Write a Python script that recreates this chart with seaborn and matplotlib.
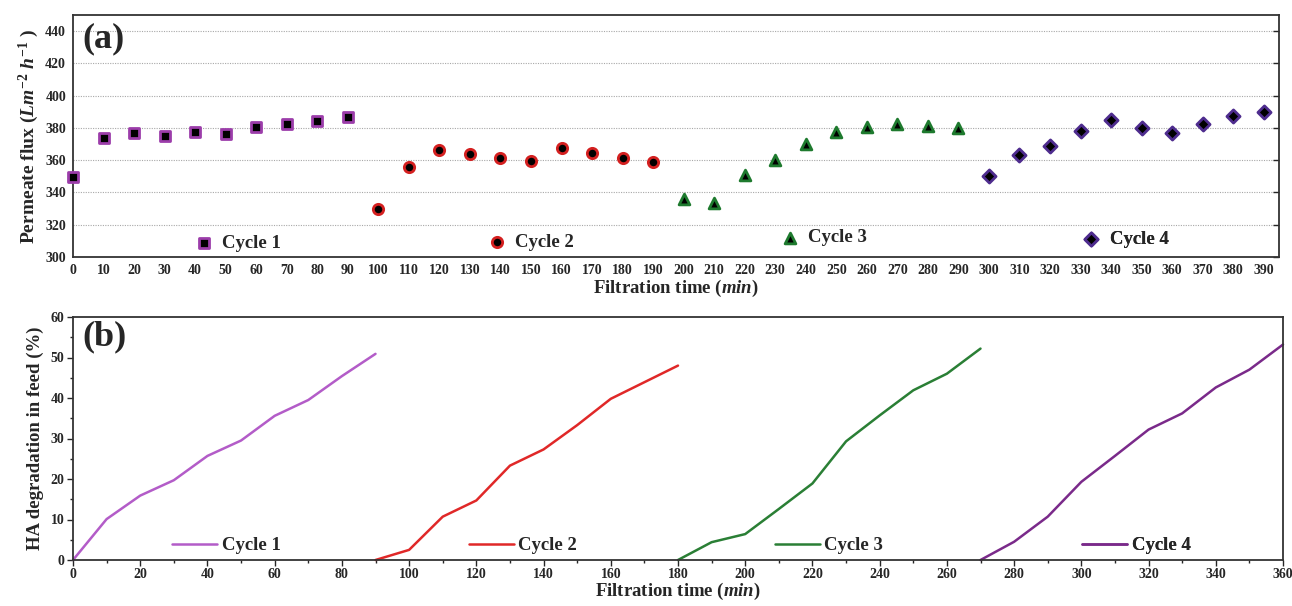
import numpy as np
import pandas as pd
import seaborn as sns
import matplotlib.pyplot as plt
from matplotlib.ticker import MultipleLocator
from matplotlib.lines import TICKLEFT

# ---- data, panel (a): permeate flux ----
t1a = [0, 10, 20, 30, 40, 50, 60, 70, 80, 90]
flux1 = [349.8, 373.6, 376.7, 375.2, 377.3, 376.0, 380.4, 382.5, 384.5, 386.8]
t2a = [100, 110, 120, 130, 140, 150, 160, 170, 180, 190]
flux2 = [329.8, 356.0, 366.4, 363.9, 361.6, 359.7, 367.8, 364.5, 361.6, 359.1]
t3a = [200, 210, 220, 230, 240, 250, 260, 270, 280, 290]
flux3 = [335.8, 333.3, 351.0, 360.0, 370.0, 377.5, 380.8, 382.5, 381.4, 379.8]
t4a = [300, 310, 320, 330, 340, 350, 360, 370, 380, 390]
flux4 = [350.0, 363.0, 368.6, 377.9, 385.0, 380.2, 376.9, 382.5, 387.2, 389.9]

# ---- data, panel (b): HA degradation ----
t1b = [0, 10, 20, 30, 40, 50, 60, 70, 80, 90]
deg1 = [0, 10.1, 15.9, 19.7, 25.7, 29.5, 35.6, 39.5, 45.4, 50.9]
t2b = [90, 100, 110, 120, 130, 140, 150, 160, 170, 180]
deg2 = [0, 2.5, 10.7, 14.7, 23.3, 27.3, 33.3, 39.8, 43.9, 48.0]
t3b = [180, 190, 200, 210, 220, 230, 240, 250, 260, 270]
deg3 = [0, 4.4, 6.4, 12.6, 18.9, 29.3, 35.7, 41.9, 46.0, 52.2]
t4b = [270, 280, 290, 300, 310, 320, 330, 340, 350, 360]
deg4 = [0, 4.5, 10.7, 19.3, 25.7, 32.2, 36.2, 42.6, 47.0, 53.2]

cycles = ["Cycle 1", "Cycle 2", "Cycle 3", "Cycle 4"]
marker_cols = ["#9C3DAA", "#D42020", "#1E7A2E", "#4E2C8E"]
line_cols = ["#B35CC8", "#E02828", "#2A7F35", "#7A2A8A"]
markers = ["s", "o", "^", "D"]
sizes = [50, 55, 60, 45]

sns.set_theme(style="white")
plt.rcParams["font.family"] = ["Liberation Serif", "DejaVu Serif"]
plt.rcParams["font.weight"] = "bold"
plt.rcParams["mathtext.fontset"] = "custom"
plt.rcParams["mathtext.it"] = "Liberation Serif:italic"
plt.rcParams["mathtext.rm"] = "Liberation Serif:bold"

fig = plt.figure(figsize=(12.92, 6.06), dpi=100)
W, H = 1292, 606
ax1 = fig.add_axes([73 / W, 1 - 257 / H, (1279 - 73) / W, (257 - 15) / H])
ax2 = fig.add_axes([73 / W, 1 - 560 / H, (1283 - 73) / W, (560 - 317) / H])

leg_font = {"family": "Liberation Serif", "weight": "bold", "size": 13.5}

# ---- panel (a) ----
flux_df = pd.concat([
    pd.DataFrame({"time": t, "flux": f, "cycle": c})
    for t, f, c in zip([t1a, t2a, t3a, t4a], [flux1, flux2, flux3, flux4], cycles)
])
for y in range(320, 441, 20):
    ax1.axhline(y, color="#a8a8a8", lw=0.8, ls=(0, (1, 1.2)), zorder=0)

legend_pos_a = [(0.102, 0.058), (0.345, 0.062), (0.588, 0.079), (0.838, 0.074)]
for i, c in enumerate(cycles):
    sub = flux_df[flux_df["cycle"] == c]
    sns.scatterplot(data=sub, x="time", y="flux", ax=ax1, marker=markers[i],
                    s=sizes[i], color="black", edgecolor=marker_cols[i],
                    linewidth=2.0, legend=False, clip_on=False, zorder=3)
    h = ax1.collections[-1]
    leg = ax1.legend([h], [c], loc="center left", bbox_to_anchor=legend_pos_a[i],
                     frameon=False, borderpad=0, borderaxespad=0, handlelength=0.8,
                     handletextpad=0.6, prop=leg_font)
    ax1.add_artist(leg)

ax1.set_xlim(0, 395)
ax1.set_ylim(300, 450)
ax1.xaxis.set_major_locator(MultipleLocator(10))
ax1.set_yticks(range(300, 441, 20))
ax1.tick_params(axis="x", direction="inout", length=6, width=1, labelsize=10, pad=2)
ax1.tick_params(axis="y", direction="out", length=4, width=1, labelsize=10, pad=1,
                right=True)
for tk in ax1.yaxis.get_major_ticks():
    tk.tick2line.set_marker(TICKLEFT)
ax1.set_xlabel(r"Filtration time ($\mathit{min}$)", fontsize=13.5, fontweight="bold", labelpad=1)
ax1.set_ylabel(r"Permeate flux ($\mathit{Lm}^{-2}\ \mathit{h}^{-1}$ )", fontsize=14,
               fontweight="bold", labelpad=3)
ax1.text(0.008, 0.97, "(a)", transform=ax1.transAxes, fontsize=26,
         fontweight="bold", va="top", ha="left")

# ---- panel (b) ----
deg_df = pd.concat([
    pd.DataFrame({"time": t, "deg": d, "cycle": c})
    for t, d, c in zip([t1b, t2b, t3b, t4b], [deg1, deg2, deg3, deg4], cycles)
])
legend_pos_b = [(0.082, 0.058), (0.327, 0.058), (0.580, 0.058), (0.834, 0.058)]
for i, c in enumerate(cycles):
    sub = deg_df[deg_df["cycle"] == c]
    sns.lineplot(data=sub, x="time", y="deg", ax=ax2, color=line_cols[i], lw=1.8,
                 legend=False, clip_on=False)
    h = ax2.lines[-1]
    leg = ax2.legend([h], [c], loc="center left", bbox_to_anchor=legend_pos_b[i],
                     frameon=False, borderpad=0, borderaxespad=0, handlelength=2.4,
                     handletextpad=0.25, prop=leg_font)
    ax2.add_artist(leg)

ax2.set_xlim(0, 360)
ax2.set_ylim(0, 60)
ax2.xaxis.set_major_locator(MultipleLocator(20))
ax2.xaxis.set_minor_locator(MultipleLocator(10))
ax2.yaxis.set_major_locator(MultipleLocator(10))
ax2.yaxis.set_minor_locator(MultipleLocator(5))
ax2.tick_params(axis="both", which="major", direction="out", length=4, width=1,
                labelsize=10, pad=2, bottom=True, left=True)
ax2.tick_params(axis="both", which="minor", direction="out", length=2.5, width=1,
                bottom=True, left=True)
ax2.set_xlabel(r"Filtration time ($\mathit{min}$)", fontsize=13.5, fontweight="bold", labelpad=0)
ax2.set_ylabel("HA degradation in feed (%)", fontsize=13.5, fontweight="bold", labelpad=5)
ax2.text(0.008, 0.985, "(b)", transform=ax2.transAxes, fontsize=26,
         fontweight="bold", va="top", ha="left")

for ax in (ax1, ax2):
    for sp in ax.spines.values():
        sp.set_color("#333333")
        sp.set_linewidth(1.3)
    for lab in ax.get_xticklabels() + ax.get_yticklabels():
        lab.set_fontweight("bold")

fig.savefig("out.png", dpi=100, facecolor="white")
